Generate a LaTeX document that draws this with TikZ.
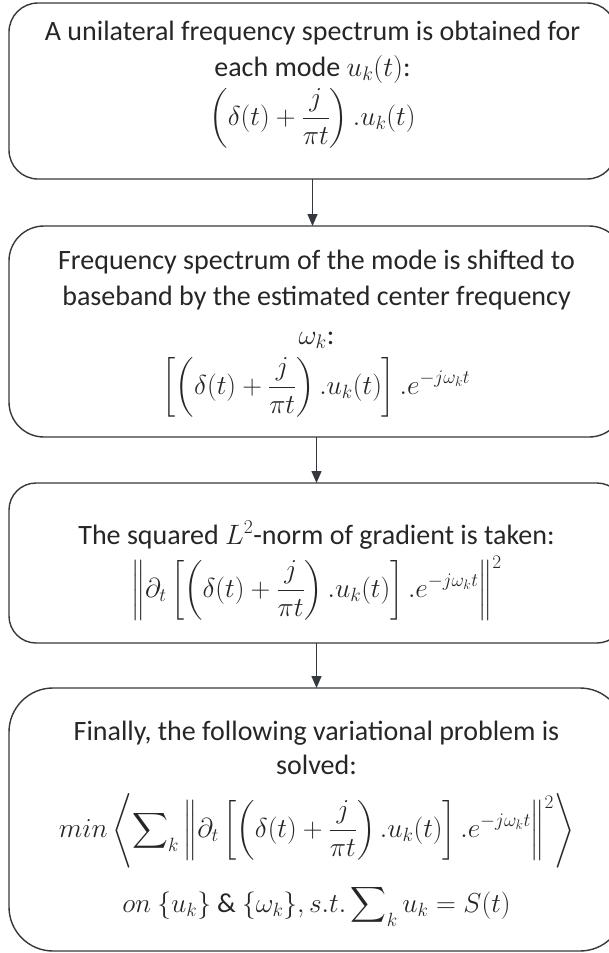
\RequirePackage{fix-cm}
\documentclass[tikz,border=0pt]{standalone}
\usepackage{fontspec}
\setmainfont{Carlito}
\usepackage{amsmath}
\usetikzlibrary{arrows.meta}
\definecolor{edge}{HTML}{35393D}
\definecolor{ink}{HTML}{262626}
\begin{document}
\begin{tikzpicture}[x=1pt,y=-1pt,
  stepbox/.style={draw=edge, line width=1.4pt, rectangle, inner sep=0pt, outer sep=0pt},
  txt/.style={text=ink, font=\fontsize{28}{34}\selectfont, inner sep=0pt, anchor=base},
  eqn/.style={txt, font=\fontsize{27.4}{33}\selectfont},
  flow/.style={draw=edge, line width=1.4pt, -{Triangle[length=12pt,width=10pt]}}]
\useasboundingbox (0,0) rectangle (609,953);

% the four steps
\node[stepbox, rounded corners=29pt, minimum width=607pt, minimum height=176pt] (b1) at (312.5,91) {};
\node[stepbox, rounded corners=35pt, minimum width=615pt, minimum height=211pt] (b2) at (316.5,331.5) {};
\node[stepbox, rounded corners=27pt, minimum width=615pt, minimum height=160pt] (b3) at (316.5,563) {};
\node[stepbox, rounded corners=44pt, minimum width=615pt, minimum height=263pt] (b4) at (316.5,819.5) {};

% step 1
\node[txt] (t1a) at (312.5,40) {A unilateral frequency spectrum is obtained for};
\node[txt] (t1b) at (312.5,76) {each mode $u_k(t)$:};
\node[eqn] (t1c) at (312.5,125.5) {$\displaystyle\left(\delta(t)+\frac{j}{\pi t}\right).u_k(t)$};

% step 2
\node[txt] (t2a) at (316.5,269) {Frequency spectrum of the mode is shifted to};
\node[txt] (t2b) at (316.5,305) {baseband by the estimated center frequency};
\node[txt] (t2c) at (316.5,344) {$\omega_k$:};
\node[eqn] (t2d) at (316.5,394.5) {$\displaystyle\left[\left(\delta(t)+\frac{j}{\pi t}\right).u_k(t)\right].e^{-j\omega_k t}$};

% step 3
\node[txt] (t3a) at (316.5,544) {The squared $L^2$-norm of gradient is taken:};
\node[eqn] (t3b) at (316.5,597.5) {$\displaystyle\left\|\partial_t\left[\left(\delta(t)+\frac{j}{\pi t}\right).u_k(t)\right].e^{-j\omega_k t}\right\|^2$};

% step 4
\node[txt] (t4a) at (316.5,740) {Finally, the following variational problem is};
\node[txt] (t4b) at (316.5,774) {solved:};
\node[eqn] (t4c) at (316.5,837.5) {$\displaystyle min\left\langle\sum\nolimits_k\left\|\partial_t\left[\left(\delta(t)+\frac{j}{\pi t}\right).u_k(t)\right].e^{-j\omega_k t}\right\|^2\right\rangle$};
\node[eqn] (t4d) at (316.5,912) {$\displaystyle on\ \{u_k\}\ \&\ \{\omega_k\}, s.t.\sum\nolimits_k u_k=S(t)$};

% connectors
\draw[flow] (b1.south) -- (b1.south |- b2.north);
\draw[flow] (b2.south) -- (b3.north);
\draw[flow] (b3.south) -- (b4.north);
\end{tikzpicture}
\end{document}
